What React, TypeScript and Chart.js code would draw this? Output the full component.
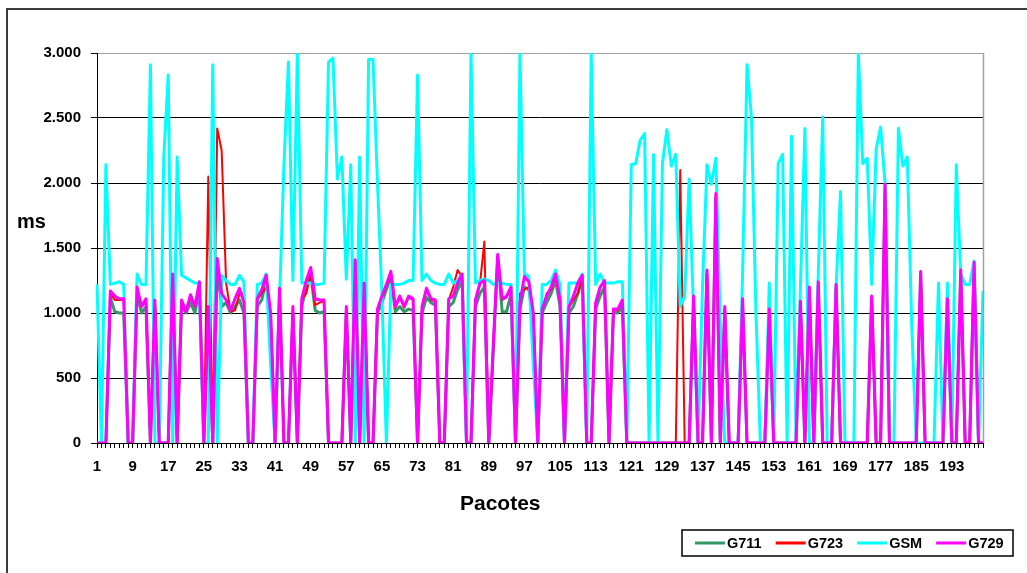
import { useEffect, useRef } from 'react';
import { Chart, registerables } from 'chart.js';

Chart.register(...registerables);

const FONT = "'Liberation Sans', Arial, Helvetica, sans-serif";

const CATEGORIES: string[] = Array.from({ length: 200 }, (_, i) => String(i + 1));
const X_TICK_LABELS = ['1', '9', '17', '25', '33', '41', '49', '57', '65', '73', '81', '89', '97', '105', '113', '121', '129', '137', '145', '153', '161', '169', '177', '185', '193'];
const Y_TICK_VALUES = [0, 500, 1000, 1500, 2000, 2500, 3000];
const X_TITLE = 'Pacotes';
const Y_TITLE = 'ms';

const G711 = [
  0, 0, 0, 1120, 1010, 1000, 1000, 0, 0, 1150,
  1000, 1050, 0, 1050, 0, 0, 0, 1250, 0, 1050,
  1000, 1080, 1000, 1200, 0, 1000, 0, 1350, 1050, 1080,
  1000, 1050, 1100, 1000, 0, 0, 1050, 1100, 1250, 950,
  0, 1150, 0, 0, 1000, 0, 1050, 1200, 1300, 1020,
  1000, 1010, 0, 0, 0, 0, 1000, 0, 1350, 0,
  1200, 0, 0, 1000, 1080, 1180, 1280, 1010, 1050, 1010,
  1030, 1020, 0, 1000, 1120, 1080, 1060, 0, 0, 1050,
  1080, 1180, 1250, 0, 0, 1050, 1150, 1200, 0, 700,
  1430, 1010, 1010, 1150, 0, 1030, 1200, 1180, 950, 0,
  1000, 1080, 1150, 1250, 1050, 0, 1000, 1050, 1150, 1250,
  0, 0, 1030, 1130, 1200, 0, 1000, 1000, 1050, 0,
  0, 0, 0, 0, 0, 0, 0, 0, 0, 0,
  0, 0, 0, 0, 1100, 0, 0, 1300, 0, 1880,
  0, 1020, 0, 0, 0, 1080, 0, 0, 0, 0,
  0, 1000, 0, 0, 0, 0, 0, 0, 1060, 0,
  1170, 0, 1210, 0, 0, 0, 1190, 0, 0, 0,
  0, 0, 0, 0, 1100, 0, 0, 1950, 0, 0,
  0, 0, 0, 0, 0, 1290, 0, 0, 0, 0,
  0, 1080, 0, 0, 1300, 0, 0, 1360, 0, 0,
];

const G723 = [
  0, 0, 0, 1150, 1100, 1100, 1100, 0, 0, 1180,
  1050, 1100, 0, 1080, 0, 0, 0, 1280, 0, 1080,
  1010, 1120, 1050, 1220, 0, 2050, 0, 2420, 2250, 1230,
  1010, 1020, 1150, 1150, 0, 0, 1100, 1150, 1200, 980,
  0, 1180, 0, 0, 1040, 0, 1100, 1150, 1300, 1060,
  1080, 1090, 0, 0, 0, 0, 1040, 0, 1400, 0,
  1220, 0, 0, 1020, 1120, 1200, 1300, 1040, 1120, 1040,
  1120, 1100, 0, 1040, 1180, 1100, 1090, 0, 0, 1100,
  1200, 1330, 1280, 0, 0, 1090, 1220, 1550, 0, 740,
  1440, 1100, 1120, 1190, 0, 1150, 1180, 1200, 990, 0,
  1020, 1150, 1180, 1290, 1090, 0, 1040, 1100, 1150, 1280,
  0, 0, 1070, 1190, 1240, 0, 1020, 1020, 1090, 0,
  0, 0, 0, 0, 0, 0, 0, 0, 0, 0,
  0, 2100, 0, 0, 1120, 0, 0, 1320, 0, 1900,
  0, 1040, 0, 0, 0, 1100, 0, 0, 0, 0,
  0, 1020, 0, 0, 0, 0, 0, 0, 1080, 0,
  1190, 0, 1230, 0, 0, 0, 1210, 0, 0, 0,
  0, 0, 0, 0, 1120, 0, 0, 1980, 0, 0,
  0, 0, 0, 0, 0, 1310, 0, 0, 0, 0,
  0, 1100, 0, 0, 1320, 0, 0, 1380, 0, 0,
];

const GSM = [
  1220, 0, 2140, 1220, 1230, 1240, 1220, 0, 0, 1300,
  1220, 1220, 2910, 0, 0, 2200, 2830, 0, 2200, 1290,
  1270, 1250, 1230, 1230, 0, 0, 2910, 0, 1290, 1250,
  1220, 1220, 1290, 1240, 0, 0, 1220, 1230, 1300, 600,
  0, 1100, 2150, 2930, 1250, 3000, 1230, 1230, 1230, 1220,
  1220, 1230, 2930, 2960, 2030, 2200, 1260, 2140, 0, 2200,
  0, 2950, 2950, 2000, 1140, 0, 1220, 1220, 1220, 1230,
  1250, 1250, 2830, 1250, 1300, 1250, 1230, 1220, 1220, 1300,
  1230, 1250, 1300, 0, 3000, 1230, 1250, 1260, 1250, 1220,
  1230, 1230, 1220, 1220, 0, 3000, 1300, 1280, 600, 0,
  1220, 1220, 1250, 1330, 1220, 0, 1230, 1230, 1230, 1300,
  0, 3000, 1220, 1300, 1230, 1230, 1230, 1240, 1240, 0,
  2140, 2150, 2330, 2380, 0, 2220, 0, 2150, 2410, 2130,
  2220, 1050, 1130, 2030, 1000, 0, 1200, 2140, 1990, 2190,
  900, 0, 0, 0, 0, 1300, 2910, 2500, 1000, 0,
  0, 1230, 0, 2150, 2220, 0, 2360, 0, 1200, 2420,
  0, 0, 1300, 2510, 0, 0, 1200, 1935, 0, 0,
  0, 3000, 2150, 2190, 1220, 2260, 2430, 2000, 0, 0,
  2420, 2130, 2200, 900, 0, 0, 0, 0, 0, 1230,
  0, 1230, 0, 2140, 1300, 1220, 1220, 1400, 0, 1170,
];

const G729 = [
  0, 0, 0, 1170, 1130, 1110, 1110, 0, 0, 1200,
  1050, 1110, 0, 1100, 0, 0, 0, 1300, 0, 1100,
  1010, 1140, 1050, 1240, 0, 1050, 0, 1420, 1150, 1100,
  1020, 1110, 1190, 1080, 0, 0, 1110, 1180, 1290, 1000,
  0, 1190, 0, 0, 1050, 0, 1110, 1250, 1350, 1110,
  1100, 1100, 0, 0, 0, 0, 1050, 0, 1410, 0,
  1230, 0, 0, 1030, 1130, 1220, 1320, 1050, 1130, 1050,
  1130, 1110, 0, 1050, 1190, 1110, 1100, 0, 0, 1110,
  1130, 1230, 1300, 0, 0, 1100, 1230, 1250, 0, 750,
  1450, 1110, 1130, 1200, 0, 1080, 1280, 1240, 1000, 0,
  1030, 1130, 1200, 1300, 1100, 0, 1050, 1130, 1230, 1290,
  0, 0, 1080, 1200, 1250, 0, 1030, 1030, 1100, 0,
  0, 0, 0, 0, 0, 0, 0, 0, 0, 0,
  0, 0, 0, 0, 1130, 0, 0, 1330, 0, 1920,
  0, 1050, 0, 0, 0, 1110, 0, 0, 0, 0,
  0, 1030, 0, 0, 0, 0, 0, 0, 1090, 0,
  1200, 0, 1240, 0, 0, 0, 1220, 0, 0, 0,
  0, 0, 0, 0, 1130, 0, 0, 1990, 0, 0,
  0, 0, 0, 0, 0, 1320, 0, 0, 0, 0,
  0, 1110, 0, 0, 1330, 0, 0, 1390, 0, 0,
];

const SERIES = [
  { label: 'G711', data: G711, color: '#339966', width: 3, order: 3 },
  { label: 'G723', data: G723, color: '#FF0000', width: 2, order: 2 },
  { label: 'GSM', data: GSM, color: '#00FFFF', width: 3, order: 1 },
  { label: 'G729', data: G729, color: '#FF00FF', width: 3, order: 0 },
];

function fmt(v: number): string {
  return String(v).replace(/\B(?=(\d{3})+(?!\d))/g, '.');
}

export default function App() {
  const ref = useRef<HTMLCanvasElement>(null);

  useEffect(() => {
    const canvas = ref.current;
    if (!canvas) return;

    const overlay = {
      id: 'overlay',
      afterDraw(chart: any) {
        const { ctx, chartArea } = chart;
        ctx.save();
        ctx.strokeStyle = '#a0a0a0';
        ctx.lineWidth = 1.5;
        ctx.beginPath();
        ctx.moveTo(chartArea.right + 0.5, chartArea.top);
        ctx.lineTo(chartArea.right + 0.5, chartArea.bottom);
        ctx.stroke();

        ctx.fillStyle = '#000';
        ctx.textBaseline = 'alphabetic';
        ctx.textAlign = 'left';
        ctx.font = `bold 21px ${FONT}`;
        ctx.fillText(X_TITLE, 460, 510);
        ctx.font = `bold 20px ${FONT}`;
        ctx.fillText(Y_TITLE, 17, 228);

        ctx.lineWidth = 1.5;
        ctx.strokeStyle = '#000';
        ctx.strokeRect(682, 530, 331, 26);
        ctx.font = `bold 14.5px ${FONT}`;
        let x = 695;
        chart.data.datasets.forEach((ds: any) => {
          ctx.strokeStyle = ds.borderColor;
          ctx.lineWidth = 3;
          ctx.beginPath();
          ctx.moveTo(x, 543);
          ctx.lineTo(x + 30, 543);
          ctx.stroke();
          ctx.fillStyle = '#000';
          ctx.fillText(ds.label, x + 32, 548);
          x += 32 + ctx.measureText(ds.label).width + 14;
        });
        ctx.restore();
      },
    };

    const chart = new Chart(canvas, {
      type: 'line',
      data: {
        labels: CATEGORIES,
        datasets: SERIES.map((s) => ({
          label: s.label,
          data: s.data,
          borderColor: s.color,
          backgroundColor: s.color,
          borderWidth: s.width,
          pointRadius: 0,
          pointHoverRadius: 0,
          tension: 0,
          fill: false,
          borderJoinStyle: 'round' as const,
          order: s.order,
        })),
      },
      options: {
        responsive: false,
        animation: false,
        events: [],
        layout: { padding: { top: 53, right: 44, left: 0, bottom: 0 } },
        plugins: {
          legend: { display: false },
          tooltip: { enabled: false },
          title: { display: false },
        },
        scales: {
          x: {
            type: 'category',
            offset: false,
            afterFit: (scale: any) => {
              scale.height = 130;
            },
            grid: {
              display: true,
              drawOnChartArea: false,
              drawTicks: true,
              tickLength: 5,
              color: '#000',
            },
            border: { display: true, color: '#000', width: 1 },
            ticks: {
              autoSkip: false,
              maxRotation: 0,
              minRotation: 0,
              padding: 10,
              color: '#000',
              font: { family: FONT, size: 15, weight: 'bold' },
              callback: (_v: any, idx: number) => {
                const lab = CATEGORIES[idx];
                return X_TICK_LABELS.includes(lab) ? lab : '';
              },
            },
          },
          y: {
            min: 0,
            max: 3000,
            afterFit: (scale: any) => {
              scale.width = 97;
            },
            afterBuildTicks: (scale: any) => {
              scale.ticks = Y_TICK_VALUES.map((v) => ({ value: v }));
            },
            grid: {
              display: true,
              drawTicks: true,
              tickLength: 6,
              tickColor: '#000',
              color: (c: any) => (c.tick && c.tick.value === 3000 ? '#a0a0a0' : '#000'),
              lineWidth: 1,
            },
            border: { display: true, color: '#000', width: 1 },
            ticks: {
              padding: 10,
              color: '#000',
              font: { family: FONT, size: 15, weight: 'bold' },
              callback: (v: any) => fmt(Number(v)),
            },
          },
        },
      },
      plugins: [overlay],
    });

    return () => {
      chart.destroy();
    };
  }, []);

  return (
    <div
      style={{
        position: 'fixed',
        left: 0,
        top: 0,
        width: 1027,
        height: 573,
        overflow: 'hidden',
        background: '#fff',
      }}
    >
      <div
        style={{
          position: 'absolute',
          left: 6,
          top: 8,
          width: 1100,
          height: 700,
          border: '2px solid #3c3c3c',
          boxSizing: 'border-box',
        }}
      />
      <canvas
        ref={ref}
        width={1027}
        height={573}
        style={{ position: 'absolute', left: 0, top: 0, width: 1027, height: 573, display: 'block' }}
      />
    </div>
  );
}
